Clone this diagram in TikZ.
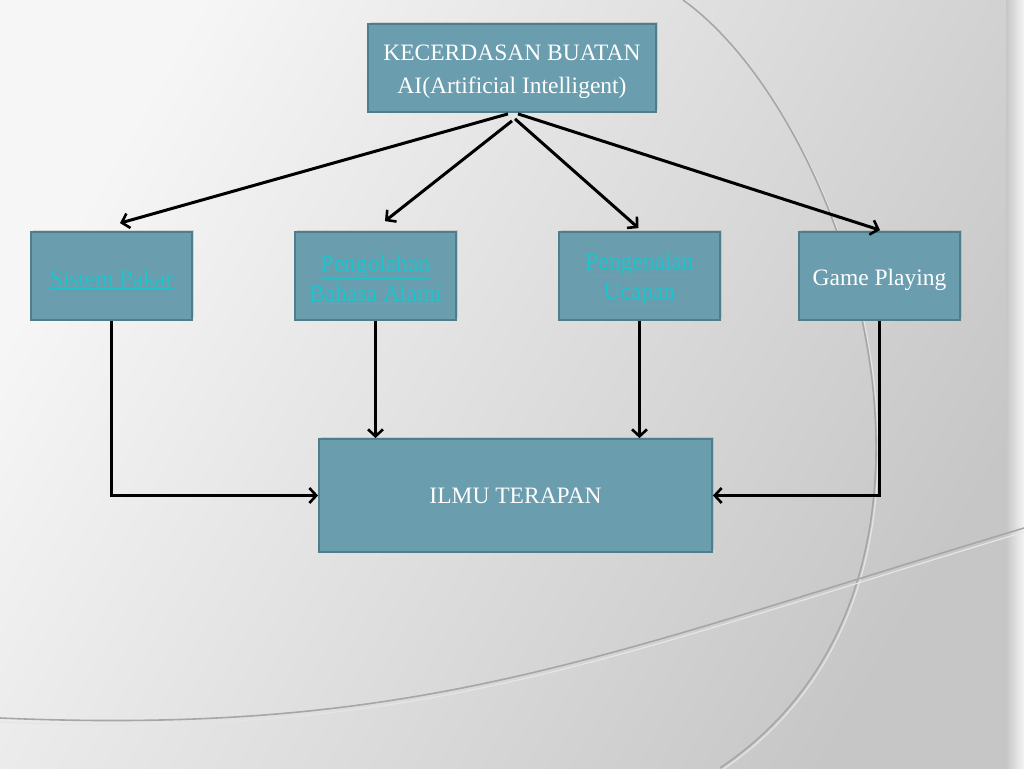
\documentclass[tikz,border=0pt]{standalone}
\usepackage{fontspec}
\setmainfont{Liberation Serif}
\usetikzlibrary{arrows.meta,shadows,calc}
\definecolor{boxfill}{HTML}{6A9DAE}
\definecolor{boxline}{HTML}{507D8C}
\definecolor{linkcol}{HTML}{1EC4CC}
\definecolor{bgA}{HTML}{F6F6F6}
\definecolor{bgB}{HTML}{C6C6C6}
\tikzset{
  box/.style={draw=boxline, line width=1.8pt, fill=boxfill, text=white, align=center,
    font=\fontsize{23.5}{30}\selectfont, inner sep=0pt,
    drop shadow={opacity=0.25, shadow xshift=1.5pt, shadow yshift=2pt}},
  arr/.style={line width=3pt, draw=black, -{Straight Barb[length=7pt,width=15pt,line width=2.6pt]}},
  bgcurve/.style={draw=gray!70, line width=1.6pt},
  bghi/.style={draw=white!80!gray, line width=1.2pt}
}
\newcommand{\dn}[1]{\raisebox{-3.5pt}[\height][\depth]{#1}}
\newcommand{\lk}[1]{\dn{\textcolor{linkcol}{\underline{#1}}}}
\begin{document}
\begin{tikzpicture}[x=1pt,y=-1pt]
\useasboundingbox (0,0) rectangle (1024,768);
% background
\shade[left color=bgA, right color=bgB, shading angle=60] (0,0) rectangle (1024,768);
\shade[left color=bgB, right color=white!92!gray] (1006,0) rectangle (1024,768);
\draw[bghi] (685,2) .. controls (852,122) and (1002,582) .. (722,770);
\draw[bgcurve] (683,0) .. controls (850,120) and (1000,580) .. (720,768);
\draw[bghi] (0,722) .. controls (420,740) and (600,660) .. (1024,532);
\draw[bgcurve] (0,718) .. controls (420,736) and (600,656) .. (1024,528);
% nodes
\node[box, minimum width=288pt, minimum height=88pt, font=\fontsize{23.5}{33}\selectfont] (top) at (512,68) {\dn{KECERDASAN BUATAN}\\\dn{AI(Artificial Intelligent)}};
\node[box, minimum width=161pt, minimum height=88pt] (sp) at (111.5,276) {\lk{Sistem Pakar}};
\node[box, minimum width=161pt, minimum height=88pt] (pb) at (375.5,276) {\lk{Pengolahan}\\\lk{Bahasa Alami}};
\node[box, minimum width=161pt, minimum height=88pt] (pu) at (639.5,276) {\lk{Pengenalan}\\\lk{Ucapan}};
\node[box, minimum width=161pt, minimum height=88pt] (gp) at (879.5,276) {\dn{Game Playing}};
\node[box, minimum width=393pt, minimum height=113pt] (it) at (515.5,495.5) {ILMU TERAPAN};
% connectors
\draw[arr] ($(top.south)+(-4,1)$) -- ($(sp.north)+(8.5,-8)$);
\draw[arr] ($(top.south)+(0,8)$) -- ($(pb.north)+(9.5,-10)$);
\draw[arr] ($(top.south)+(3,6)$) -- ($(pu.north)+(-1,-3)$);
\draw[arr] ($(top.south)+(6,1)$) -- ($(gp.north)+(0.5,-1)$);
\draw[arr] (sp.south) |- (it.west);
\draw[arr] (pb.south) -- (pb.south |- it.north);
\draw[arr] (pu.south) -- (pu.south |- it.north);
\draw[arr] (gp.south) |- (it.east);
\end{tikzpicture}
\end{document}
